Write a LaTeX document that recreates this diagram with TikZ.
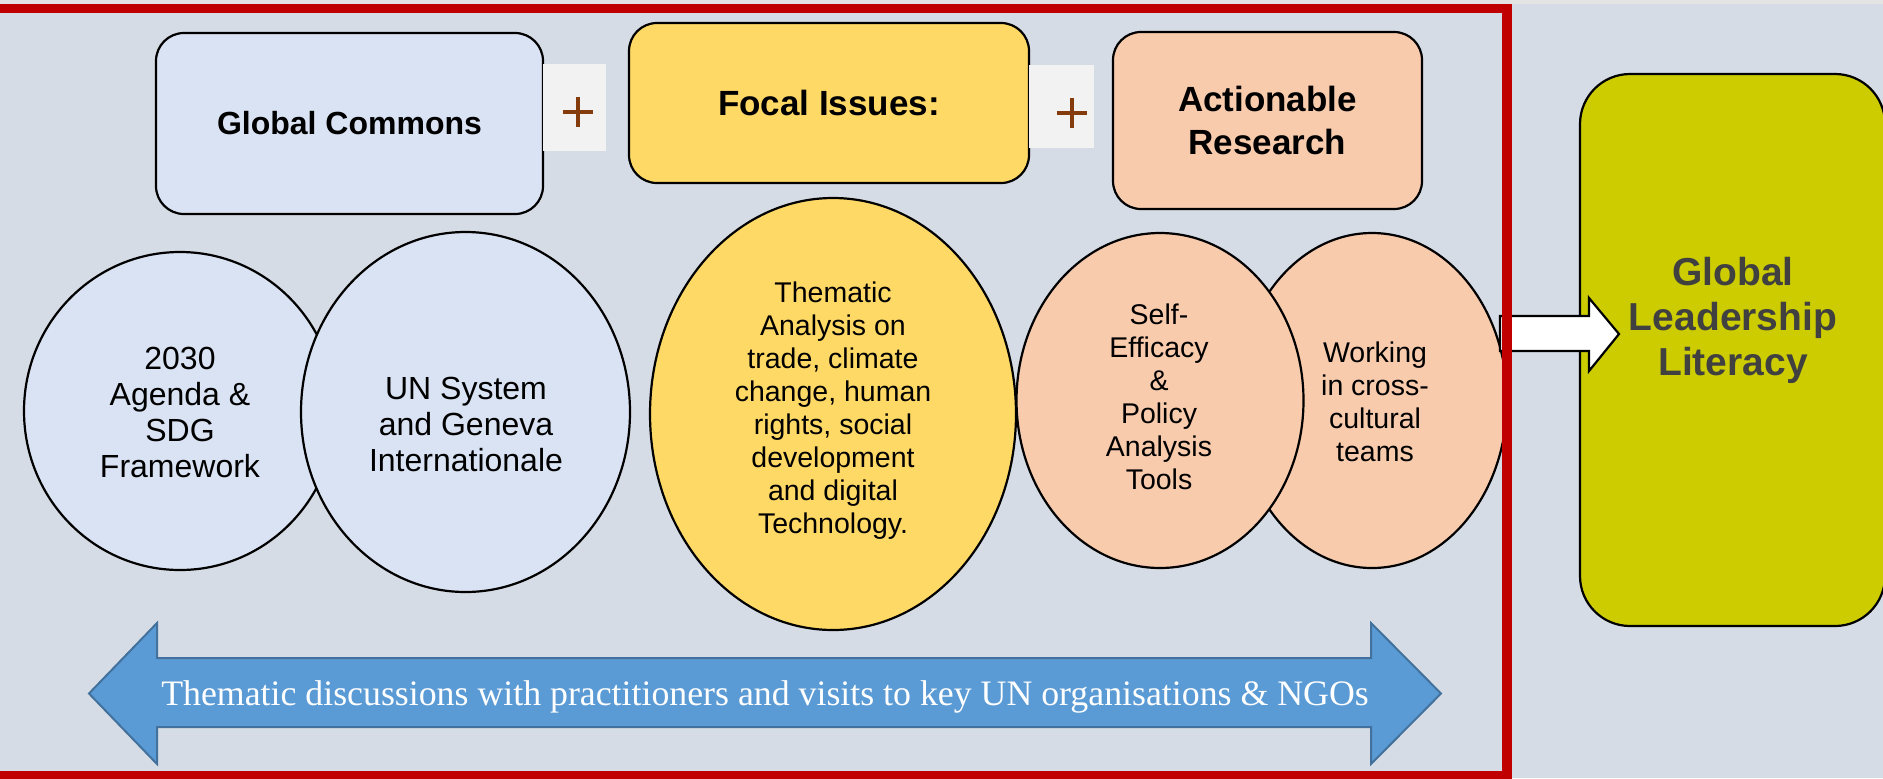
\documentclass[tikz,border=0pt]{standalone}
\usepackage{fontspec}
\setmainfont{Liberation Sans}
\newfontfamily\arrowserif{Liberation Serif}
\usetikzlibrary{shapes.geometric}
\definecolor{bgc}{HTML}{D6DCE5}
\definecolor{topstrip}{HTML}{E4E4E4}
\definecolor{lblue}{HTML}{DAE3F3}
\definecolor{yel}{HTML}{FFD966}
\definecolor{salm}{HTML}{F8CBAD}
\definecolor{olive}{HTML}{CCCC00}
\definecolor{arrblue}{HTML}{5B9BD5}
\definecolor{arrborder}{HTML}{41719C}
\definecolor{framered}{HTML}{C00000}
\definecolor{plusbg}{HTML}{F2F2F2}
\definecolor{plusc}{HTML}{843C0C}
\definecolor{gtext}{HTML}{404040}
\tikzset{
  outl/.style={draw=black, line width=1.1pt},
  rbox/.style={rectangle, rounded corners=14pt, outl, inner sep=0pt, align=center},
  ell/.style={ellipse, outl, inner sep=0pt},
  plusbox/.style={rectangle, fill=plusbg, inner sep=0pt},
  plusline/.style={draw=plusc, line width=1.8pt},
  hdr/.style={font=\bfseries\fontsize{17.5pt}{21.5pt}\selectfont},
  bigtxt/.style={align=center, inner sep=0pt, font=\fontsize{16pt}{18pt}\selectfont},
  smalltxt/.style={align=center, inner sep=0pt, font=\fontsize{14.25pt}{16.5pt}\selectfont},
  bluearrow/.style={fill=arrblue, draw=arrborder, line width=1pt, line join=miter},
  whitearrow/.style={fill=white, draw=black, line width=1.1pt, line join=miter},
  redframe/.style={draw=framered, line width=4.6pt}
}
\begin{document}
\begin{tikzpicture}[x=0.5pt,y=-0.5pt]
\useasboundingbox (0,0) rectangle (1883,778);
\clip (0,0) rectangle (1883,778);
\fill[bgc] (0,0) rectangle (1883,778);
\fill[topstrip] (0,0) rectangle (1883,4);

% header boxes
\node[rbox, fill=lblue, minimum width=193.5pt, minimum height=90.5pt,
      font=\bfseries\fontsize{16pt}{19pt}\selectfont] (gc) at (349.5,123.5) {Global Commons};
\node[rbox, fill=yel, minimum width=200pt, minimum height=80pt, hdr] (fi) at (829,103) {Focal Issues:};
\node[rbox, fill=salm, minimum width=154.5pt, minimum height=88.5pt, hdr] (ar) at (1267.5,120.5) {Actionable\\Research};

% plus boxes
\node[plusbox, minimum width=31.5pt, minimum height=43.5pt] (p1) at (574.5,107.5) {};
\node[plusbox, minimum width=32.5pt, minimum height=41.5pt] (p2) at (1061.5,106.5) {};
\draw[plusline] (563,112) -- (593,112) (578,97) -- (578,127);
\draw[plusline] (1057,113) -- (1087,113) (1072,98) -- (1072,128);

% ellipses
\node[ell, fill=lblue, minimum width=156pt, minimum height=159pt] (e1) at (180,411) {};
\node[ell, fill=lblue, minimum width=164.5pt, minimum height=180pt] (e2) at (465.5,412) {};
\node[ell, fill=yel, minimum width=183pt, minimum height=216pt] (e3) at (833,414) {};
\node[ell, fill=salm, minimum width=135pt, minimum height=167.5pt] (e5) at (1372,400.5) {};
\node[ell, fill=salm, minimum width=143.5pt, minimum height=167.5pt] (e4) at (1160,400.5) {};

\node[bigtxt] (t1) at (180,412) {2030\\Agenda \&\\SDG\\Framework};
\node[bigtxt] (t2) at (466,424) {UN System\\and Geneva\\Internationale};
\node[smalltxt] (t3) at (833,411) {Thematic\\Analysis on\\trade, climate\\change, human\\rights, social\\development\\and digital\\Technology.};
\node[smalltxt] (t4) at (1159,397) {Self-\\Efficacy\\\&\\Policy\\Analysis\\Tools};
\node[smalltxt] (t5) at (1375,402) {Working\\in cross-\\cultural\\teams};

% bottom double arrow
\draw[bluearrow] (89,693.5) -- (157,623) -- (157,658) -- (1371,658) -- (1371,623)
  -- (1441,693.5) -- (1371,764) -- (1371,727) -- (157,727) -- (157,764) -- cycle;
\node[inner sep=0pt, text=white, font=\arrowserif\fontsize{17.9pt}{21pt}\selectfont] (bt) at (765,697)
  {Thematic discussions with practitioners and visits to key UN organisations \& NGOs};

% outcome box
\node[rectangle, rounded corners=25pt, outl, fill=olive, minimum width=152.5pt, minimum height=276pt] (gl) at (1732.5,350) {};
\node[align=center, inner sep=0pt, text=gtext, font=\bfseries\fontsize{19.5pt}{22.5pt}\selectfont] (glt) at (1733,320) {Global\\Leadership\\Literacy};

% white block arrow
\draw[whitearrow] (1500,316) -- (1589,316) -- (1589,298) -- (1619,334) -- (1589,371) -- (1589,351) -- (1500,351) -- cycle;

% red frame
\draw[redframe] (-30,8.5) rectangle (1507,776);
\end{tikzpicture}
\end{document}
